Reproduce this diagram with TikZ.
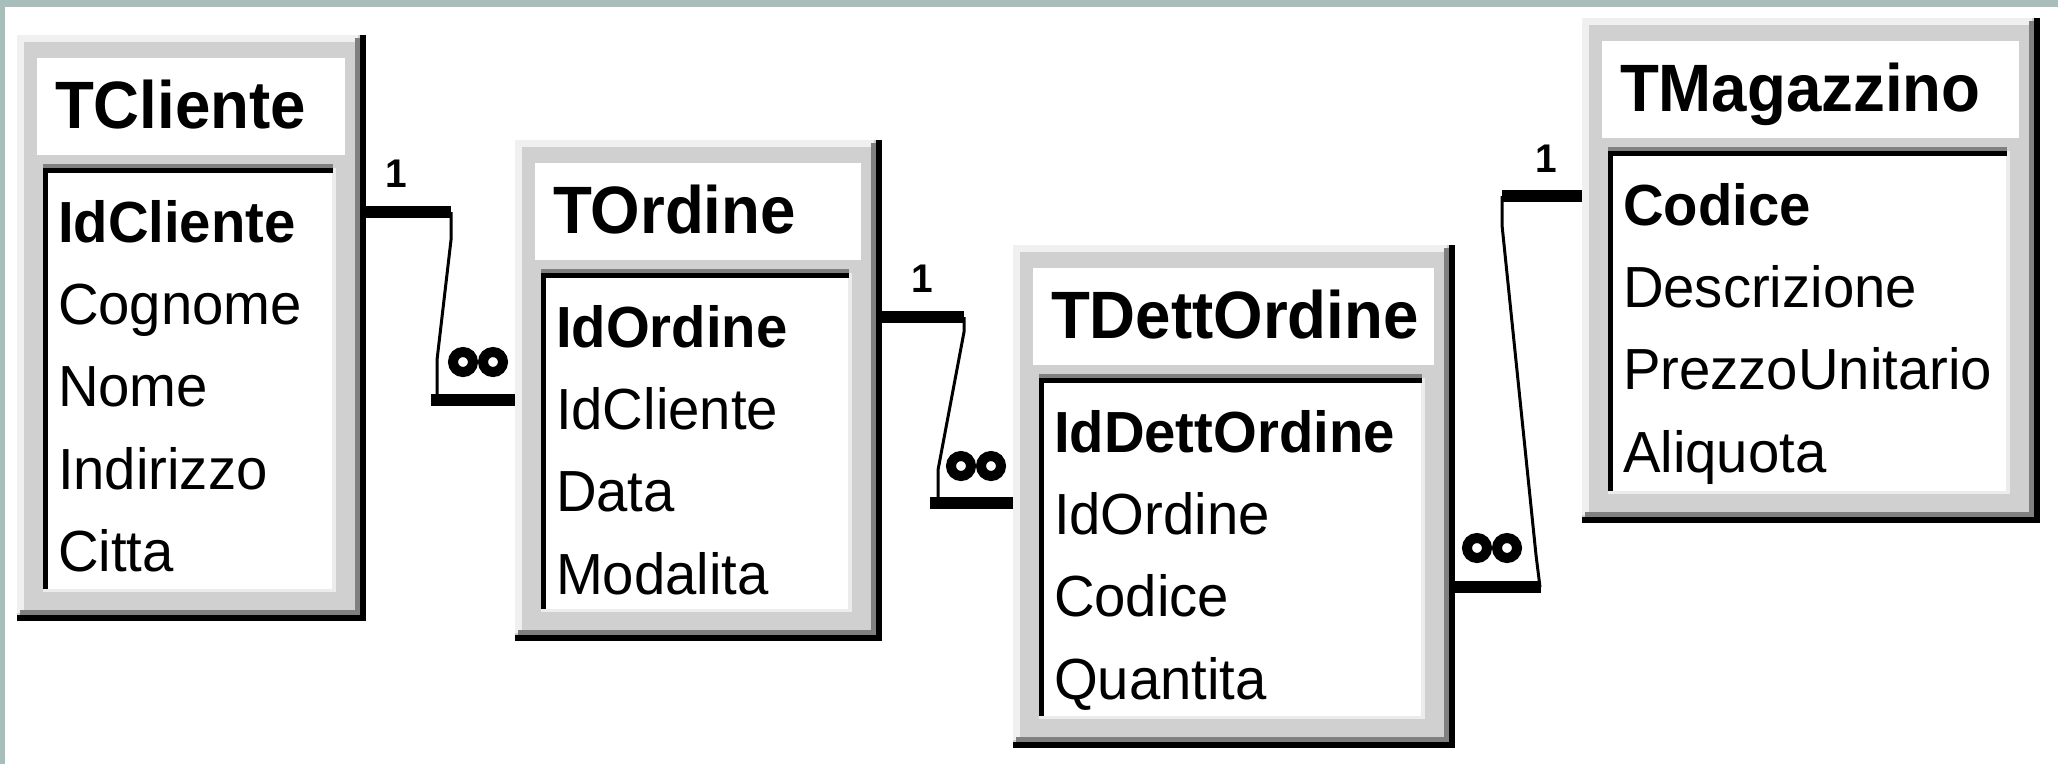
\documentclass[tikz,border=0pt]{standalone}
\usepackage{fontspec}
\setmainfont{Liberation Sans}
\newfontfamily\AccTblFamily[FakeStretch=0.97]{Liberation Sans}
\newfontfamily\AccTtlFamily[FakeStretch=0.95]{Liberation Sans}
\newcommand\AccFieldFont{\AccTblFamily\fontsize{58}{60}\selectfont}
\newcommand\AccTitleFont{\AccTtlFamily\fontsize{67}{70}\selectfont\bfseries}
\newcommand\AccCardFont{\AccTblFamily\fontsize{40}{42}\selectfont\bfseries}
\definecolor{bordergray}{RGB}{168,190,186}
\definecolor{framegray}{RGB}{208,208,208}
\definecolor{framelight}{RGB}{240,240,240}
\definecolor{frameshade}{RGB}{128,128,128}
\definecolor{listlight}{RGB}{236,236,236}
\tikzset{
  fld/.style={anchor=base west, inner sep=0pt, outer sep=0pt, font=\AccFieldFont},
  keyfld/.style={fld, font=\AccFieldFont\bfseries},
  ttl/.style={anchor=base west, inner sep=0pt, outer sep=0pt, font=\AccTitleFont},
  card/.style={anchor=base west, inner sep=0pt, outer sep=0pt, font=\AccCardFont},
  stub/.style={line width=12pt, black},
  relline/.style={line width=3pt, black, line join=miter},
  manyring/.style={line width=10pt, black}
}
% #1 name, #2 x0, #3 y0, #4 x1, #5 y1, #6 title, #7 key field, #8 other fields
\newcommand\AccTable[8]{%
  \coordinate (#1-nw) at (#2,#3);
  \coordinate (#1-se) at (#4,#5);
  \fill[framegray] (#1-nw) rectangle (#1-se);
  \fill[framelight] (#2,#3) rectangle ({#4-8},{#3+7});
  \fill[framelight] (#2,#3) rectangle ({#2+7},{#5-8});
  \fill[frameshade] ({#4-11},{#3+3}) rectangle ({#4-5},{#5-5});
  \fill[frameshade] ({#2+3},{#5-11}) rectangle ({#4-5},{#5-5});
  \fill[black] ({#4-6},#3) rectangle (#4,#5);
  \fill[black] (#2,{#5-6}) rectangle (#4,#5);
  \fill[white] ({#2+20},{#3+23}) rectangle ({#4-21},{#3+120});
  \fill[frameshade] ({#2+26},{#3+129}) rectangle ({#4-33},{#3+133});
  \fill[listlight] ({#2+26},{#3+133}) rectangle ({#4-30},{#5-29});
  \fill[white] ({#2+31},{#3+138}) rectangle ({#4-34},{#5-32});
  \fill[black] ({#2+26},{#3+133}) rectangle ({#4-33},{#3+138});
  \fill[black] ({#2+26},{#3+133}) rectangle ({#2+31},{#5-32});
  \node[ttl] (#1-title) at ({#2+38},{#3+93}) {#6};
  \node[keyfld] (#1-key) at ({#2+41},{#3+207}) {#7};
  \foreach \AccFld [count=\AccI] in {#8} {
    \node[fld] (#1-f\AccI) at ({#2+41},{#3+207+82.4*\AccI}) {\AccFld};
  }
}
\begin{document}
\begin{tikzpicture}[x=1pt,y=-1pt]
\useasboundingbox (0,0) rectangle (2058,764);
\fill[white] (0,0) rectangle (2058,764);
\fill[bordergray] (0,0) rectangle (2058,7);
\fill[bordergray] (0,0) rectangle (5,764);

\AccTable{TCliente}{17}{35}{366}{621}{TCliente}{IdCliente}{Cognome,Nome,Indirizzo,Citta}
\AccTable{TOrdine}{515}{140}{882}{641}{TOrdine}{IdOrdine}{IdCliente,Data,Modalita}
\AccTable{TDettOrdine}{1013}{245}{1455}{748}{TDettOrdine}{IdDettOrdine}{IdOrdine,Codice,Quantita}
\AccTable{TMagazzino}{1582}{18}{2040}{523}{TMagazzino}{Codice}{Descrizione,PrezzoUnitario,Aliquota}

% relation 1: TCliente (1) -- TOrdine (many)
\coordinate (r1a) at (366,212);
\coordinate (r1b) at (451,212);
\coordinate (r1k1) at (451,240);
\coordinate (r1k2) at (437,360);
\coordinate (r1c) at (437,400);
\coordinate (r1s) at (431,400);
\coordinate (r1d) at (515,400);
\draw[stub] (r1a) -- (r1b);
\draw[relline] (r1b) -- (r1k1) -- (r1k2) -- (r1c);
\draw[stub] (r1s) -- (r1d);
\coordinate (r1o1) at (463,362);
\coordinate (r1o2) at (493,362);
\draw[manyring] (r1o1) circle[radius=10pt];
\draw[manyring] (r1o2) circle[radius=10pt];
\node[card] (r1one) at (385,187) {1};

% relation 2: TOrdine (1) -- TDettOrdine (many)
\coordinate (r2a) at (882,317);
\coordinate (r2b) at (964,317);
\coordinate (r2k1) at (964,332);
\coordinate (r2k2) at (938,470);
\coordinate (r2c) at (938,503);
\coordinate (r2s) at (930,503);
\coordinate (r2d) at (1013,503);
\draw[stub] (r2a) -- (r2b);
\draw[relline] (r2b) -- (r2k1) -- (r2k2) -- (r2c);
\draw[stub] (r2s) -- (r2d);
\coordinate (r2o1) at (961,466);
\coordinate (r2o2) at (991,466);
\draw[manyring] (r2o1) circle[radius=10pt];
\draw[manyring] (r2o2) circle[radius=10pt];
\node[card] (r2one) at (911,292) {1};

% relation 3: TMagazzino (1) -- TDettOrdine (many)
\coordinate (r3a) at (1582,196);
\coordinate (r3b) at (1502,196);
\coordinate (r3k1) at (1502,225);
\coordinate (r3k2) at (1536,555);
\coordinate (r3c) at (1540,587);
\coordinate (r3s) at (1455,587);
\coordinate (r3d) at (1541,587);
\draw[stub] (r3a) -- (r3b);
\draw[relline] (r3b) -- (r3k1) -- (r3k2) -- (r3c);
\draw[stub] (r3s) -- (r3d);
\coordinate (r3o1) at (1477,548);
\coordinate (r3o2) at (1507,548);
\draw[manyring] (r3o1) circle[radius=10pt];
\draw[manyring] (r3o2) circle[radius=10pt];
\node[card] (r3one) at (1535,172) {1};
\end{tikzpicture}
\end{document}
